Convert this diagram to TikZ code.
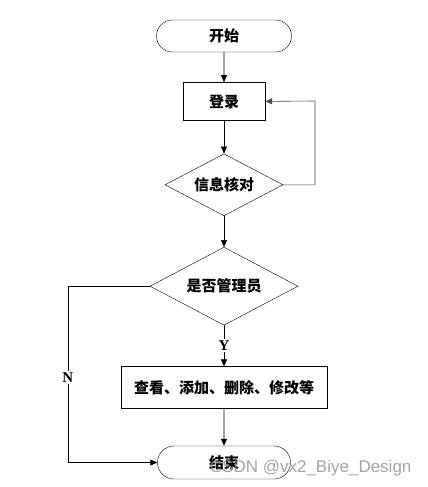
\documentclass[tikz,border=0pt]{standalone}
\usepackage{fontspec}
\setmainfont{Liberation Serif}
\newfontfamily\cjk{Noto Sans CJK SC}
\newfontfamily\wmfont{Liberation Sans}
\usetikzlibrary{shapes.geometric, shapes.misc, arrows.meta, positioning}

\begin{document}
\begin{tikzpicture}[x=1pt, y=1pt, node distance=30pt, font=\cjk\bfseries\fontsize{15}{16}\selectfont,
    term/.style={draw, rounded rectangle, minimum width=135pt, minimum height=32pt, inner sep=0pt},
    proc/.style={draw, rectangle, minimum height=38pt, inner sep=0pt},
    decide/.style={draw, diamond, aspect=1.9, inner sep=0pt},
    yn/.style={fill=white, inner sep=1.5pt, font=\rmfamily\bfseries\fontsize{15}{16}\selectfont},
    arr/.style={-{Triangle[length=7pt,width=6pt]}, line width=0.6pt}]
\useasboundingbox (0,0) rectangle (428,-487);
\node[term] (start) at (224,-36) {开始};
\node[proc, minimum width=82pt, below=30pt of start] (login) {登录};
\node[decide, minimum width=118pt, minimum height=62pt, below=33pt of login] (check) {信息核对};
\node[decide, minimum width=148pt, minimum height=78pt, below=31pt of check] (admin) {是否管理员};
\node[proc, minimum width=206pt, minimum height=42pt, below=41pt of admin] (manage) {查看、添加、删除、修改等};
\node[term, minimum width=133pt, minimum height=33pt, below=37pt of manage] (end) {结束};
\coordinate (loopR) at (315,-101);

\draw[arr] (start) -- (login);
\draw[arr] (login) -- (check);
\draw[arr, draw=black!70] (check.east) -| (loopR) -- (login.east);
\draw[arr] (check) -- (admin);
\draw[arr] (admin) -- node[yn] {Y} (manage);
\draw[arr] (manage) -- (end);
\draw[arr] (admin.west) -- ++(-82,0) |- node[yn, pos=0.26] {N} (end.west);

% watermark
\node[font=\wmfont\fontsize{17}{18}\selectfont, text=black!45, opacity=0.8, anchor=east] (mark) at (415,-468) {CSDN @vx2\_Biye\_Design};
\end{tikzpicture}
\end{document}
